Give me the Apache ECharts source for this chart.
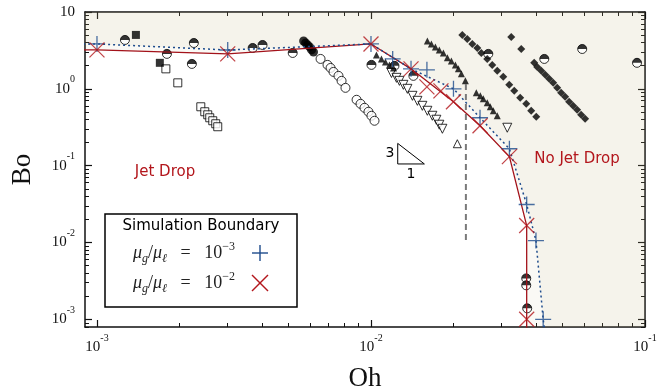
<!DOCTYPE html>
<html><head><meta charset="utf-8">
<script src="https://cdn.jsdelivr.net/npm/echarts@6/dist/echarts.min.js"></script>
<style>html,body{margin:0;padding:0;background:#fff}#c{width:658px;height:392px}</style>
</head><body><div id="c"></div>
<script>
// ---------- axis ranges (log10 units) and ticks ----------
const X_MIN = -3.0437, X_MAX = -1, Y_MIN = -3.1, Y_MAX = 1;
const xTickValues = [0.001, 0.01, 0.1];
const yTickValues = [0.001, 0.01, 0.1, 1, 10];

// ---------- simulation boundary (Oh, Bo) ----------
const simMu3Markers = [[0.001,3.84],[0.003,3.2],[0.01,3.84],[0.012,2.45],[0.014,1.82],[0.016,1.77],[0.02,1.0],[0.025,0.42],[0.032,0.166],[0.037,0.0312],[0.040,0.0106],[0.0425,0.001]];
const simMu3Boundary = [[0.00089,3.84],[0.001,3.84],[0.003,3.2],[0.01,3.84],[0.014,1.82],[0.02,1.0],[0.025,0.42],[0.032,0.166],[0.037,0.0312],[0.040,0.0106],[0.0425,0.001],[0.043,0.00075]];
const simMu2Markers = [[0.001,3.21],[0.003,2.85],[0.01,3.84],[0.014,1.82],[0.016,1.06],[0.018,0.94],[0.02,0.678],[0.025,0.331],[0.032,0.131],[0.037,0.0166],[0.037,0.001]];
const simMu2Boundary = [[0.00089,3.21],[0.001,3.21],[0.003,2.85],[0.01,3.84],[0.014,1.82],[0.02,0.678],[0.025,0.331],[0.032,0.131],[0.037,0.0166],[0.037,0.001],[0.037,0.00075]];
const regionCorner = [[0.11,0.00075]];

// ---------- experimental data (Oh, Bo) ----------
const expHalfCircle = [[0.001265,4.33],[0.0018,2.85],[0.002257,3.95],[0.00222,2.11],[0.0037,3.40],[0.00402,3.72],[0.00518,2.93],[0.01004,2.05],[0.01218,1.99],[0.01428,1.475],[0.0268,2.85],[0.0429,2.45],[0.059,3.30],[0.0935,2.18],[0.03686,0.00341],[0.03686,0.00277],[0.03716,0.00139]];
const expFilledSquare = [[0.001387,5.03],[0.001696,2.18]];
const expOpenSquare = [[0.001784,1.82],[0.001972,1.197],[0.002393,0.584],[0.002474,0.503],[0.002537,0.459],[0.00258,0.42],[0.002646,0.384],[0.002713,0.351],[0.002759,0.321]];
const expFilledCircle = [[0.005677,4.20],[0.005773,3.96],[0.005871,3.73],[0.00597,3.51],[0.00607,3.21],[0.00617,3.02]];
const expOpenCircle = [[0.006546,2.45],[0.00694,2.05],[0.00712,1.87],[0.0073,1.66],[0.00761,1.475],[0.00781,1.27],[0.00807,1.03],[0.00886,0.72],[0.00916,0.638],[0.00947,0.566],[0.00979,0.503],[0.01004,0.446],[0.0103,0.384]];
const expFilledTriangle = [[0.01047,2.76],[0.01092,2.45],[0.01129,2.24],[0.01168,2.05],[0.01208,1.87],
  [0.01606,4.20],[0.01661,3.84],[0.01718,3.51],[0.01776,3.21],[0.01837,2.93],[0.019,2.53],[0.01965,2.31],[0.02032,2.05],[0.02084,1.82],[0.02137,1.566],[0.0221,1.27],
  [0.02423,0.887],[0.02506,0.811],[0.0257,0.742],[0.02657,0.658],[0.02725,0.584],[0.02795,0.518],[0.0289,0.446]];
const expOpenTriangleDown = [[0.01188,1.61],[0.01239,1.39],[0.0127,1.27],[0.01313,1.127],[0.01358,1.0],[0.01417,0.811],[0.01477,0.698],[0.0154,0.601],[0.01606,0.518],[0.01675,0.446],[0.01732,0.396],[0.01776,0.341],[0.01822,0.302],[0.03143,0.3115]];
const expOpenTriangleUp = [[0.02066,0.193]];
const expDiamond = [[0.02154,5.03],[0.02246,4.46],[0.02343,3.84],[0.02443,3.41],[0.02527,2.93],[0.02657,2.45],[0.02771,2.05],[0.0289,1.713],[0.03039,1.432],[0.03196,1.127],[0.03333,0.942],[0.03504,0.764],[0.03686,0.638],[0.03843,0.518],[0.04009,0.433],
  [0.0325,4.74],[0.03534,3.31],[0.03941,2.18],[0.04043,1.93],[0.04181,1.713],[0.04324,1.52],[0.04471,1.349],[0.04623,1.197],[0.04781,1.03],[0.04943,0.887],[0.05112,0.787],[0.05286,0.678],[0.05466,0.601],[0.05653,0.534],[0.05846,0.459],[0.06045,0.408]];

// ---------- annotations (Oh, Bo) ----------
const criticalLine = [[0.0222,1.16],[0.0222,0.0106]];
const slopeTriangle = [[0.01252,0.1949],[0.01252,0.1052],[0.01566,0.1052],[0.01252,0.1949]];

// ---------- helpers ----------
const L = arr => arr.map(p => [Math.log10(p[0]), Math.log10(p[1])]);
const lg = arr => arr.map(v => Math.log10(v));
function minorTicks(lo, hi) {
  const out = [];
  for (let n = -5; n <= 1; n++) for (let k = 2; k <= 9; k++) {
    const v = n + Math.log10(k);
    if (v > lo && v < hi) out.push(v);
  }
  return out;
}
const SERIF = 'Liberation Serif';
const INK = '#111';
const BLUE = '#1d4b8c';
const RED = '#b3161c';
const RED_LINE = '#a3121a';
const FILL = 'rgba(200,188,140,0.12)';
const richLabel = {
  b: {fontFamily: SERIF, fontSize: 15, lineHeight: 28, color: INK},
  s: {fontFamily: SERIF, fontSize: 10, lineHeight: 10, verticalAlign: 'top', color: INK}
};
function fmt(v) {
  const n = Math.round(v);
  return n === 1 ? '{b|10}' : '{b|10}{s|' + n + '}';
}
function axisPair(dim, pos, major, lo, hi, withLabels, name) {
  const common = {type: 'value', min: lo, max: hi, position: pos, splitLine: {show: false}, scale: false};
  const main = Object.assign({}, common, {
    axisLine: {show: true, onZero: false, lineStyle: {color: INK, width: 1.5}},
    axisTick: {show: true, inside: true, length: 7, customValues: major, lineStyle: {color: INK, width: 1.2}},
    axisLabel: withLabels ? {show: true, customValues: major, formatter: fmt, rich: richLabel, margin: dim === 'x' ? 6 : 10} : {show: false}
  });
  if (name) Object.assign(main, name);
  const minor = Object.assign({}, common, {
    axisLine: {show: false, onZero: false},
    axisTick: {show: true, inside: true, length: 4, customValues: minorTicks(lo, hi), lineStyle: {color: INK, width: 1}},
    axisLabel: {show: false}
  });
  return [main, minor];
}
const xMajor = lg(xTickValues), yMajor = lg(yTickValues);
const xAxes = [
  ...axisPair('x', 'bottom', xMajor, X_MIN, X_MAX, true, {
    name: 'Oh', nameLocation: 'middle', nameGap: 38, nameMoveOverlap: false,
    nameTextStyle: {fontFamily: SERIF, fontSize: 27, color: INK}}),
  ...axisPair('x', 'top', xMajor, X_MIN, X_MAX, false)
];
const yAxes = [
  ...axisPair('y', 'left', yMajor, Y_MIN, Y_MAX, true, {
    name: 'Bo', nameLocation: 'middle', nameGap: 49, nameMoveOverlap: false,
    nameTextStyle: {fontFamily: SERIF, fontSize: 27, color: INK}}),
  ...axisPair('y', 'right', yMajor, Y_MIN, Y_MAX, false)
];

function scatter(data, symbol, size, fill, extra) {
  return Object.assign({
    type: 'scatter', data: L(data), symbol: symbol, symbolSize: size, z: 3,
    itemStyle: {color: fill, borderColor: '#000', borderWidth: fill === '#000' ? 0 : 1},
    silent: true
  }, extra || {});
}
const PLUS = 'path://M0,8L16,8M8,0L8,16';
const CROSS = 'path://M0,0L16,16M0,16L16,0';
const TOPHALF = 'path://M0,10A10,10,0,0,1,20,10Z';

const series = [
  {type: 'line', data: L(simMu3Boundary.concat(regionCorner)), symbol: 'none', z: 1, silent: true,
   lineStyle: {width: 0, opacity: 0}, areaStyle: {origin: 'end', color: FILL}},
  {type: 'line', data: L(simMu2Boundary.concat(regionCorner)), symbol: 'none', z: 1, silent: true,
   lineStyle: {width: 0, opacity: 0}, areaStyle: {origin: 'end', color: FILL}},
  scatter(expOpenSquare, 'rect', 8, '#fff'),
  scatter(expFilledSquare, 'rect', 8, '#000'),
  scatter(expOpenCircle, 'circle', 9, '#fff'),
  scatter(expFilledCircle, 'circle', 9, '#000'),
  scatter(expHalfCircle, 'circle', 9, '#fff'),
  scatter(expHalfCircle, TOPHALF, [9, 4.5], '#000', {symbolOffset: [0, -2.25]}),
  scatter(expOpenTriangleDown, 'triangle', 9, '#fff', {symbolRotate: 180}),
  scatter(expOpenTriangleUp, 'triangle', 8, '#fff'),
  scatter(expFilledTriangle, 'triangle', 7, '#000'),
  scatter(expDiamond, 'diamond', 8, '#000'),
  {type: 'line', data: L(criticalLine), symbol: 'none', z: 4, silent: true,
   lineStyle: {color: '#7a7a7a', width: 2, type: [6, 4]}},
  {type: 'line', data: L(slopeTriangle), symbol: 'none', z: 4, silent: true,
   lineStyle: {color: '#000', width: 1}},
  {type: 'line', data: L(simMu2Boundary), symbol: 'none', z: 5, silent: true,
   lineStyle: {color: RED_LINE, width: 1.3}},
  {type: 'line', data: L(simMu3Boundary), symbol: 'none', z: 5, silent: true,
   lineStyle: {color: BLUE, width: 1.5, type: [2, 3]}},
  {type: 'scatter', data: L(simMu3Markers), symbol: PLUS, symbolSize: 16, z: 6, silent: true,
   itemStyle: {color: 'rgba(0,0,0,0)', borderColor: BLUE, borderWidth: 1.3}},
  {type: 'scatter', data: L(simMu2Markers), symbol: CROSS, symbolSize: 15, z: 6, silent: true,
   itemStyle: {color: 'rgba(0,0,0,0)', borderColor: RED, borderWidth: 1.3}}
];

const mathRich = {
  i: {fontFamily: SERIF, fontStyle: 'italic', fontSize: 18, lineHeight: 24, fill: '#222'},
  sub: {fontFamily: SERIF, fontStyle: 'italic', fontSize: 12, lineHeight: 12, verticalAlign: 'bottom', fill: '#222'},
  r: {fontFamily: SERIF, fontSize: 18, lineHeight: 24, fill: '#222'},
  sup: {fontFamily: SERIF, fontSize: 12, lineHeight: 12, verticalAlign: 'top', fill: '#222'}
};
const graphic = [
  {type: 'text', x: 165, y: 172, z: 50, style: {text: 'Jet Drop', fill: RED, font: '15px "DejaVu Sans"', align: 'center', verticalAlign: 'middle'}},
  {type: 'text', x: 577, y: 159, z: 50, style: {text: 'No Jet Drop', fill: RED, font: '15px "DejaVu Sans"', align: 'center', verticalAlign: 'middle'}},
  {type: 'text', x: 390, y: 153, z: 50, style: {text: '3', fill: '#000', font: '14px "DejaVu Sans"', align: 'center', verticalAlign: 'middle'}},
  {type: 'text', x: 411, y: 174, z: 50, style: {text: '1', fill: '#000', font: '14px "DejaVu Sans"', align: 'center', verticalAlign: 'middle'}},
  {type: 'rect', z: 50, shape: {x: 105, y: 214, width: 192, height: 93}, style: {fill: '#fff', stroke: '#000', lineWidth: 1.5}},
  {type: 'text', x: 201, y: 226, z: 51, style: {text: 'Simulation Boundary', fill: '#000', font: '15px "DejaVu Sans"', align: 'center', verticalAlign: 'middle'}},
  {type: 'text', x: 133, y: 253, z: 51, style: {
    text: '{i|μ}{sub|g}{r|/}{i|μ}{sub|ℓ}{r|   =   10}{sup|−3}', verticalAlign: 'middle', align: 'left', rich: mathRich}},
  {type: 'text', x: 133, y: 283, z: 51, style: {
    text: '{i|μ}{sub|g}{r|/}{i|μ}{sub|ℓ}{r|   =   10}{sup|−2}', verticalAlign: 'middle', align: 'left', rich: mathRich}},
  {type: 'line', z: 51, shape: {x1: 252, y1: 253, x2: 268, y2: 253}, style: {stroke: BLUE, lineWidth: 1.4}},
  {type: 'line', z: 51, shape: {x1: 260, y1: 245, x2: 260, y2: 261}, style: {stroke: BLUE, lineWidth: 1.4}},
  {type: 'line', z: 51, shape: {x1: 252, y1: 275, x2: 268, y2: 291}, style: {stroke: RED, lineWidth: 1.4}},
  {type: 'line', z: 51, shape: {x1: 252, y1: 291, x2: 268, y2: 275}, style: {stroke: RED, lineWidth: 1.4}}
];

const chart = echarts.init(document.getElementById('c'), null, {renderer: 'canvas'});
chart.setOption({
  animation: false,
  backgroundColor: '#fff',
  grid: {left: 85, right: 13, top: 12, bottom: 65, outerBoundsMode: 'none', containLabel: false},
  xAxis: xAxes,
  yAxis: yAxes,
  series: series,
  graphic: graphic
});
</script></body></html>
